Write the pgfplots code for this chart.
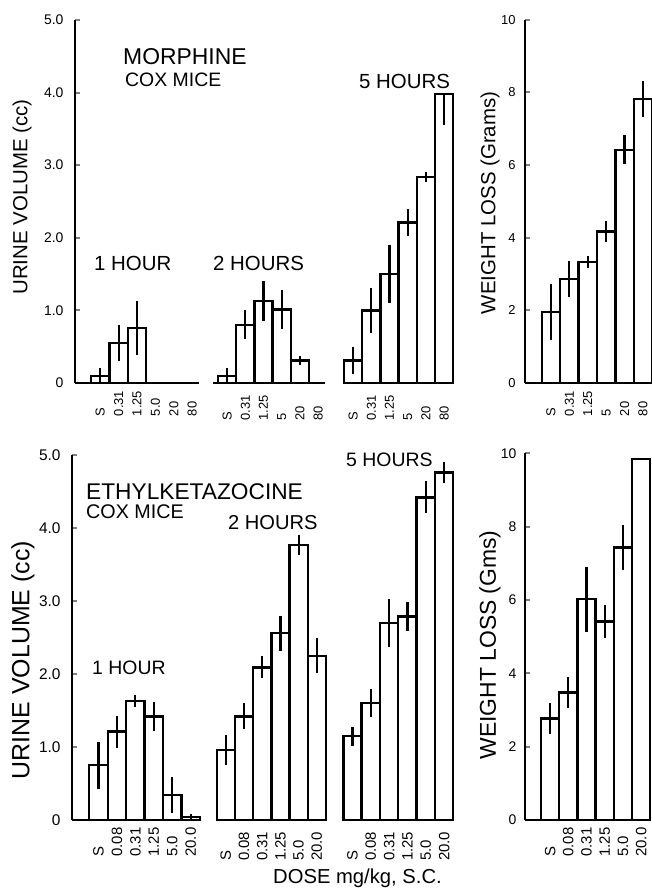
\documentclass[border=0pt]{standalone}
\usepackage{pgfplots}
\pgfplotsset{compat=1.18}
\usepackage{fontspec}
\setmainfont{Liberation Sans}

\newcommand{\fs}[1]{\fontsize{#1}{#1}\selectfont}

\pgfplotsset{
  dosebars/.style={
    ybar, bar width=1, enlargelimits=false, clip=false, ymin=0,
    anchor=south west,
    axis x line*=bottom,
    axis line style={-, line width=2.6bp},
    xtick={1,...,6}, xtick style={draw=none},
    x tick label style={rotate=90, anchor=east, inner sep=0pt, align=left},
    /pgf/number format/assume math mode=true,
  },
  toprow/.style={x tick label style={font=\fs{13}, text width=26bp}, xticklabel shift=7bp},
  botrow/.style={x tick label style={font=\fs{15}, text width=29.5bp}, xticklabel shift=7bp},
  hidey/.style={axis y line=none, ytick=\empty},
  showy/.style={axis y line*=left, tick align=inside, major tick length=5bp,
    ytick style={line width=2bp}},
  bars/.style={draw=black, fill=white, line width=2.4bp,
    error bars/y dir=both, error bars/y explicit, error bars/error mark=none,
    error bars/error bar style={line width=2.2bp, black, solid}},
}

\begin{document}
\begin{tikzpicture}
\useasboundingbox (0bp,0bp) rectangle (652bp,891bp);

% ---------------- MORPHINE ----------------
\begin{axis}[dosebars, toprow, showy, at={(75bp,508bp)}, x=18.4bp, y=72.6bp,
  xmin=-0.37, xmax=6.37, ymax=5,
  ytick={0,1,2,3,4,5}, yticklabels={0,1.0,2.0,3.0,4.0,5.0},
  yticklabel style={font=\fs{14}, xshift=-8bp},
  xticklabels={S,0.31,1.25,5.0,20,80}]
\addplot[bars] coordinates {
  (1,0.10) +- (0,0.10)
  (2,0.55) +- (0,0.25)
  (3,0.76) +- (0,0.37)
};
\end{axis}

\begin{axis}[dosebars, toprow, hidey, at={(213bp,508bp)}, x=18.2bp, y=72.6bp,
  xmin=0.225, xmax=6.38, ymax=5,
  xticklabels={S,0.31,1.25,5,20,80}]
\addplot[bars] coordinates {
  (1,0.10) +- (0,0.10)
  (2,0.80) +- (0,0.20)
  (3,1.13) +- (0,0.28)
  (4,1.01) +- (0,0.27)
  (5,0.31) +- (0,0.06)
};
\end{axis}

\begin{axis}[dosebars, toprow, hidey, at={(344bp,508bp)}, x=18.2bp, y=72.6bp,
  xmin=0.5, xmax=6.5, ymax=5,
  xticklabels={S,0.31,1.25,5,20,80}]
\addplot[bars] coordinates {
  (1,0.31) +- (0,0.19)
  (2,1.00) +- (0,0.31)
  (3,1.50) +- (0,0.40)
  (4,2.21) +- (0,0.18)
  (5,2.84) +- (0,0.07)
  (6,3.98) += (0,0) -= (0,0.42)
};
\end{axis}

\begin{axis}[dosebars, toprow, showy, at={(525bp,508bp)}, x=18.4bp, y=36.33bp,
  xmin=-0.41, xmax=6.5, ymax=10,
  ytick={0,2,4,6,8,10},
  yticklabel style={font=\fs{13}, xshift=-6bp},
  xticklabels={S,0.31,1.25,5,20,80}]
\addplot[bars] coordinates {
  (1,1.95) +- (0,0.78)
  (2,2.86) +- (0,0.50)
  (3,3.33) +- (0,0.16)
  (4,4.17) +- (0,0.30)
  (5,6.42) +- (0,0.40)
  (6,7.82) +- (0,0.50)
};
\end{axis}

% ---------------- ETHYLKETAZOCINE ----------------
\begin{axis}[dosebars, botrow, showy, at={(72bp,71bp)}, x=18.45bp, y=73bp,
  xmin=-0.436, xmax=6.5, ymax=5,
  ytick={0,1,2,3,4,5}, yticklabels={0,1.0,2.0,3.0,4.0,5.0},
  yticklabel style={font=\fs{15.5}, xshift=-8bp},
  xticklabels={S,0.08,0.31,1.25,5.0,20.0}]
\addplot[bars] coordinates {
  (1,0.75) +- (0,0.32)
  (2,1.21) +- (0,0.22)
  (3,1.63) +- (0,0.08)
  (4,1.42) +- (0,0.20)
  (5,0.34) +- (0,0.25)
  (6,0.04) +- (0,0.04)
};
\end{axis}

\begin{axis}[dosebars, botrow, hidey, at={(216.7bp,71bp)}, x=18.2bp, y=73bp,
  xmin=0.5, xmax=6.5, ymax=5,
  xticklabels={S,0.08,0.31,1.25,5.0,20.0}]
\addplot[bars] coordinates {
  (1,0.96) +- (0,0.20)
  (2,1.42) +- (0,0.18)
  (3,2.09) +- (0,0.15)
  (4,2.56) +- (0,0.24)
  (5,3.77) +- (0,0.14)
  (6,2.25) +- (0,0.24)
};
\end{axis}

\begin{axis}[dosebars, botrow, hidey, at={(343.3bp,71bp)}, x=18.33bp, y=73bp,
  xmin=0.5, xmax=6.5, ymax=5,
  xticklabels={S,0.08,0.31,1.25,5.0,20.0}]
\addplot[bars] coordinates {
  (1,1.15) +- (0,0.13)
  (2,1.60) +- (0,0.19)
  (3,2.70) +- (0,0.33)
  (4,2.79) +- (0,0.20)
  (5,4.42) +- (0,0.22)
  (6,4.76) +- (0,0.15)
};
\end{axis}

\begin{axis}[dosebars, botrow, showy, at={(525bp,71bp)}, x=18.2bp, y=36.67bp,
  xmin=-0.38, xmax=6.5, ymax=10,
  ytick={0,2,4,6,8,10},
  yticklabel style={font=\fs{14}, xshift=-5bp},
  xticklabels={S,0.08,0.31,1.25,5.0,20.0}]
\addplot[bars] coordinates {
  (1,2.77) +- (0,0.43)
  (2,3.48) +- (0,0.43)
  (3,6.02) +- (0,0.88)
  (4,5.41) +- (0,0.44)
  (5,7.43) +- (0,0.62)
  (6,9.85) +- (0,0)
};
\end{axis}

% titles and labels
\begin{scope}[every node/.style={inner sep=0pt}]
\node[rotate=90, font=\fs{20.5}] at (22bp,694bp) {URINE VOLUME (cc)};
\node[rotate=90, font=\fs{20.5}] at (490bp,688bp) {WEIGHT LOSS (Grams)};
\node[anchor=west, font=\fs{23}] at (123bp,834bp) {MORPHINE};
\node[anchor=west, font=\fs{19.5}] at (125bp,811bp) {COX MICE};
\node[anchor=west, font=\fs{20.5}] at (94bp,628bp) {1 HOUR};
\node[anchor=west, font=\fs{20.5}] at (213bp,628bp) {2 HOURS};
\node[anchor=west, font=\fs{20.5}] at (359bp,810bp) {5 HOURS};

\node[rotate=90, font=\fs{25}] at (23bp,231bp) {URINE VOLUME (cc)};
\node[rotate=90, font=\fs{23}] at (490bp,246bp) {WEIGHT LOSS (Gms)};
\node[anchor=west, font=\fs{22.8}] at (86bp,399bp) {ETHYLKETAZOCINE};
\node[anchor=west, font=\fs{19.8}] at (86bp,379bp) {COX MICE};
\node[anchor=west, font=\fs{20.2}] at (228bp,368bp) {2 HOURS};
\node[anchor=west, font=\fs{19.5}] at (92bp,223bp) {1 HOUR};
\node[anchor=west, font=\fs{19.5}] at (346bp,431bp) {5 HOURS};
\node[anchor=west, font=\fs{20.3}] at (273bp,13bp) {DOSE mg/kg, S.C.};
\end{scope}
\end{tikzpicture}
\end{document}
